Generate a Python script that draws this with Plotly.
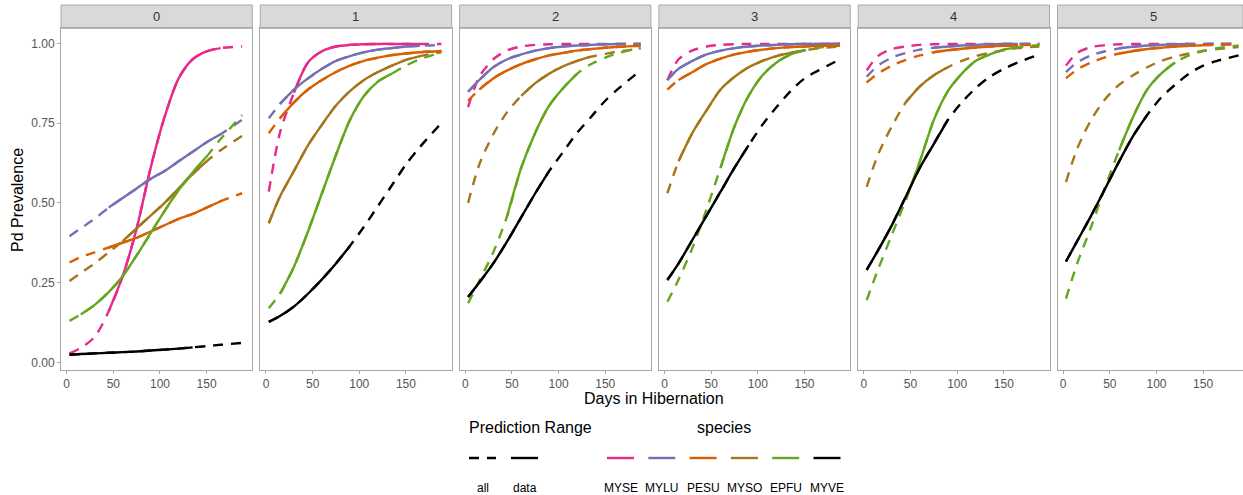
import plotly.graph_objects as go

W, H = 1243, 495

PANELS = ["0", "1", "2", "3", "4", "5"]
DAYS = [3, 15, 30, 45, 60, 75, 90, 105, 120, 135, 150, 165, 188]
SPECIES = ["MYSE", "MYLU", "PESU", "MYSO", "EPFU", "MYVE"]
COLORS = ["#E7298A", "#7570B3", "#D95F02", "#A6761D", "#66A61E", "#000000"]
X_TICKS = [0, 50, 100, 150]
Y_TICKS = [0, 0.25, 0.5, 0.75, 1.0]
Y_TICK_TEXT = ["0.00", "0.25", "0.50", "0.75", "1.00"]
RANGE_LABELS = ["all", "data"]

# predicted prevalence per panel (rows = panels 0..5), sampled at DAYS
MYSE = [
    [0.028, 0.045, 0.08, 0.16, 0.27, 0.42, 0.61, 0.77, 0.89, 0.95, 0.975, 0.985, 0.99],
    [0.535, 0.72, 0.845, 0.94, 0.975, 0.99, 0.995, 0.997, 0.998, 0.998, 0.998, 0.998, 0.998],
    [0.80, 0.895, 0.95, 0.978, 0.99, 0.995, 0.997, 0.998, 0.998, 0.998, 0.998, 0.998, 0.998],
    [0.885, 0.95, 0.978, 0.99, 0.995, 0.997, 0.998, 0.998, 0.998, 0.998, 0.998, 0.998, 0.998],
    [0.915, 0.96, 0.982, 0.99, 0.995, 0.997, 0.998, 0.998, 0.998, 0.998, 0.998, 0.998, 0.998],
    [0.93, 0.97, 0.988, 0.994, 0.997, 0.998, 0.998, 0.998, 0.998, 0.998, 0.998, 0.998, 0.998],
]
MYLU = [
    [0.395, 0.42, 0.45, 0.485, 0.515, 0.545, 0.575, 0.60, 0.63, 0.66, 0.69, 0.715, 0.76],
    [0.765, 0.81, 0.855, 0.89, 0.92, 0.945, 0.96, 0.972, 0.98, 0.985, 0.99, 0.992, 0.995],
    [0.848, 0.885, 0.925, 0.95, 0.965, 0.977, 0.985, 0.99, 0.993, 0.995, 0.997, 0.998, 0.999],
    [0.885, 0.92, 0.945, 0.965, 0.977, 0.985, 0.99, 0.993, 0.995, 0.997, 0.998, 0.998, 0.999],
    [0.895, 0.93, 0.955, 0.97, 0.98, 0.986, 0.99, 0.993, 0.995, 0.997, 0.998, 0.998, 0.999],
    [0.91, 0.94, 0.962, 0.975, 0.984, 0.989, 0.993, 0.995, 0.997, 0.998, 0.998, 0.999, 0.999],
]
PESU = [
    [0.313, 0.33, 0.345, 0.36, 0.375, 0.39, 0.41, 0.43, 0.45, 0.465, 0.485, 0.505, 0.53],
    [0.718, 0.765, 0.815, 0.855, 0.885, 0.91, 0.93, 0.945, 0.955, 0.963, 0.968, 0.972, 0.976],
    [0.82, 0.855, 0.89, 0.915, 0.935, 0.95, 0.962, 0.97, 0.977, 0.982, 0.986, 0.989, 0.992],
    [0.855, 0.885, 0.91, 0.935, 0.952, 0.965, 0.974, 0.98, 0.985, 0.988, 0.99, 0.992, 0.994],
    [0.877, 0.905, 0.93, 0.948, 0.962, 0.972, 0.978, 0.983, 0.987, 0.99, 0.992, 0.994, 0.996],
    [0.89, 0.918, 0.94, 0.956, 0.968, 0.976, 0.982, 0.986, 0.99, 0.992, 0.994, 0.995, 0.997],
]
MYSO = [
    [0.255, 0.28, 0.31, 0.345, 0.38, 0.42, 0.46, 0.50, 0.545, 0.59, 0.63, 0.665, 0.71],
    [0.436, 0.52, 0.60, 0.68, 0.745, 0.805, 0.85, 0.885, 0.91, 0.93, 0.948, 0.96, 0.972],
    [0.50, 0.62, 0.715, 0.785, 0.835, 0.875, 0.905, 0.928, 0.945, 0.958, 0.967, 0.975, 0.983],
    [0.53, 0.63, 0.72, 0.79, 0.855, 0.895, 0.925, 0.945, 0.96, 0.97, 0.978, 0.984, 0.99],
    [0.55, 0.65, 0.74, 0.815, 0.865, 0.90, 0.925, 0.945, 0.96, 0.97, 0.978, 0.985, 0.99],
    [0.565, 0.67, 0.76, 0.825, 0.87, 0.90, 0.925, 0.945, 0.958, 0.968, 0.976, 0.982, 0.988],
]
EPFU = [
    [0.13, 0.15, 0.18, 0.22, 0.27, 0.335, 0.405, 0.475, 0.54, 0.595, 0.645, 0.70, 0.775],
    [0.17, 0.215, 0.30, 0.41, 0.53, 0.65, 0.76, 0.835, 0.88, 0.905, 0.93, 0.95, 0.972],
    [0.185, 0.255, 0.345, 0.46, 0.61, 0.72, 0.805, 0.86, 0.905, 0.935, 0.955, 0.97, 0.985],
    [0.19, 0.26, 0.36, 0.48, 0.61, 0.74, 0.835, 0.90, 0.94, 0.965, 0.978, 0.986, 0.993],
    [0.195, 0.29, 0.40, 0.51, 0.63, 0.76, 0.85, 0.905, 0.945, 0.965, 0.98, 0.988, 0.994],
    [0.20, 0.31, 0.425, 0.55, 0.665, 0.77, 0.855, 0.905, 0.94, 0.962, 0.976, 0.985, 0.993],
]
MYVE = [
    [0.024, 0.026, 0.028, 0.030, 0.032, 0.034, 0.037, 0.040, 0.043, 0.047, 0.051, 0.055, 0.061],
    [0.127, 0.145, 0.175, 0.215, 0.26, 0.31, 0.365, 0.425, 0.49, 0.555, 0.62, 0.675, 0.75],
    [0.205, 0.25, 0.31, 0.38, 0.455, 0.53, 0.60, 0.66, 0.72, 0.77, 0.82, 0.86, 0.915],
    [0.258, 0.31, 0.385, 0.46, 0.535, 0.61, 0.68, 0.745, 0.80, 0.85, 0.89, 0.915, 0.95],
    [0.29, 0.35, 0.43, 0.52, 0.61, 0.685, 0.76, 0.815, 0.86, 0.895, 0.92, 0.94, 0.965],
    [0.316, 0.38, 0.46, 0.545, 0.63, 0.71, 0.775, 0.83, 0.87, 0.905, 0.93, 0.945, 0.962],
]
SERIES = [MYSE, MYLU, PESU, MYSO, EPFU, MYVE]

# range of days covered by observed data (start, end) per panel; None = no data
MYSE_DATA = [(45, 165), (30, 165), None, None, None, None]
MYLU_DATA = [(45, 165), (15, 165), (3, 165), (3, 188), (75, 165), (60, 135)]
PESU_DATA = [(45, 165), (15, 188), (15, 188), (15, 188), (75, 165), (60, 150)]
MYSO_DATA = [(60, 150), (3, 165), (60, 135), (15, 150), (45, 90), None]
EPFU_DATA = [(15, 150), (15, 135), (45, 120), (60, 150), (45, 165), (60, 120)]
MYVE_DATA = [(3, 135), (3, 90), (3, 90), (3, 90), (3, 90), (3, 90)]
DATA_RANGES = [MYSE_DATA, MYLU_DATA, PESU_DATA, MYSO_DATA, EPFU_DATA, MYVE_DATA]

FONT = "Liberation Sans, Arial, Helvetica, sans-serif"
LW = 2.4
DASH = "10px,8px"

fig = go.Figure()

# layout geometry (pixels)
P_LEFT0, P_STEP, P_WIDTH = 61.0, 199.3, 191.3
P_TOP, P_BOTTOM, STRIP_TOP = 28.3, 370.0, 5.0
PX_PER_DAY = 0.933
X_MIN = -6.1


def px(x):
    return x / W


def py(y):
    return 1 - y / H


for k, panel in enumerate(PANELS):
    xa = "x" if k == 0 else f"x{k+1}"
    ya = "y" if k == 0 else f"y{k+1}"
    for s, name in enumerate(SPECIES):
        vals = SERIES[s][k]
        fig.add_trace(go.Scatter(
            x=DAYS, y=vals, mode="lines", xaxis=xa, yaxis=ya,
            line=dict(color=COLORS[s], width=LW, dash=DASH, shape="spline", smoothing=0.8),
            showlegend=False, hoverinfo="skip"))
    for s, name in enumerate(SPECIES):
        rng = DATA_RANGES[s][k]
        if rng is None:
            continue
        xs = [d for d in DAYS if rng[0] <= d <= rng[1]]
        ys = [v for d, v in zip(DAYS, SERIES[s][k]) if rng[0] <= d <= rng[1]]
        fig.add_trace(go.Scatter(
            x=xs, y=ys, mode="lines", xaxis=xa, yaxis=ya,
            line=dict(color=COLORS[s], width=LW, shape="spline", smoothing=0.8),
            showlegend=False, hoverinfo="skip"))

layout = dict(
    width=W, height=H, margin=dict(l=0, r=0, t=0, b=0),
    plot_bgcolor="white", paper_bgcolor="white",
    font=dict(family=FONT, color="#000000"),
    showlegend=False,
)
shapes = []
annotations = []
AX_COLOR = "#A8A8A8"
for k, panel in enumerate(PANELS):
    left = P_LEFT0 + k * P_STEP
    right = min(left + P_WIDTH, W)
    x_max = X_MIN + (right - left) / PX_PER_DAY
    xkey = "xaxis" if k == 0 else f"xaxis{k+1}"
    ykey = "yaxis" if k == 0 else f"yaxis{k+1}"
    layout[xkey] = dict(
        domain=[px(left), px(right)], anchor="y" if k == 0 else f"y{k+1}",
        range=[X_MIN, x_max], tickvals=X_TICKS, ticks="outside", ticklen=3,
        tickcolor=AX_COLOR, tickfont=dict(size=12, color="#555555", family=FONT),
        showline=True, mirror=True, linecolor=AX_COLOR, linewidth=1,
        showgrid=False, zeroline=False, fixedrange=True)
    layout[ykey] = dict(
        domain=[py(P_BOTTOM), py(P_TOP)], anchor="x" if k == 0 else f"x{k+1}",
        range=[-0.024, 1.047], tickvals=Y_TICKS, ticktext=Y_TICK_TEXT,
        ticks="outside" if k == 0 else "", ticklen=3, tickcolor=AX_COLOR,
        showticklabels=(k == 0),
        tickfont=dict(size=12, color="#555555", family=FONT),
        showline=True, mirror=True, linecolor=AX_COLOR, linewidth=1,
        showgrid=False, zeroline=False, fixedrange=True)
    # facet strip
    shapes.append(dict(type="rect", xref="paper", yref="paper",
                       x0=px(left), x1=px(right), y0=py(P_TOP), y1=py(STRIP_TOP),
                       fillcolor="#D9D9D9", line=dict(color=AX_COLOR, width=1), layer="below"))
    annotations.append(dict(xref="paper", yref="paper", x=px(left + P_WIDTH / 2), y=py((P_TOP + STRIP_TOP) / 2),
                            text=panel, showarrow=False, xanchor="center", yanchor="middle",
                            font=dict(size=13, color="#333333", family=FONT)))

# axis titles
annotations.append(dict(xref="paper", yref="paper", x=px(654), y=py(398), text="Days in Hibernation",
                        showarrow=False, xanchor="center", yanchor="middle",
                        font=dict(size=16, color="#000000", family=FONT)))
annotations.append(dict(xref="paper", yref="paper", x=px(18), y=py(200), text="Pd Prevalence",
                        showarrow=False, xanchor="center", yanchor="middle", textangle=-90,
                        font=dict(size=16, color="#000000", family=FONT)))

# legend (drawn manually: keys above labels, as in ggplot bottom legend)
LEG_TITLE_Y, LEG_KEY_Y, LEG_LABEL_Y = 427, 458, 488
annotations.append(dict(xref="paper", yref="paper", x=px(467), y=py(LEG_TITLE_Y), text="Prediction Range",
                        showarrow=False, xanchor="left", yanchor="middle",
                        font=dict(size=16, color="#000000", family=FONT)))
annotations.append(dict(xref="paper", yref="paper", x=px(695), y=py(LEG_TITLE_Y), text="species",
                        showarrow=False, xanchor="left", yanchor="middle",
                        font=dict(size=16, color="#000000", family=FONT)))
range_keys = [(469, 496), (511, 538)]
for (x0, x1), lab, dash in zip(range_keys, RANGE_LABELS, [DASH, "solid"]):
    shapes.append(dict(type="line", xref="paper", yref="paper", x0=px(x0), x1=px(x1),
                       y0=py(LEG_KEY_Y), y1=py(LEG_KEY_Y),
                       line=dict(color="#000000", width=LW, dash=dash)))
    annotations.append(dict(xref="paper", yref="paper", x=px((x0 + x1) / 2), y=py(LEG_LABEL_Y), text=lab,
                            showarrow=False, xanchor="center", yanchor="middle",
                            font=dict(size=12, color="#000000", family=FONT)))
SP_KEY_X0, SP_KEY_STEP, SP_KEY_W = 607, 41.3, 27
for s, name in enumerate(SPECIES):
    x0 = SP_KEY_X0 + s * SP_KEY_STEP
    shapes.append(dict(type="line", xref="paper", yref="paper", x0=px(x0), x1=px(x0 + SP_KEY_W),
                       y0=py(LEG_KEY_Y), y1=py(LEG_KEY_Y),
                       line=dict(color=COLORS[s], width=LW)))
    annotations.append(dict(xref="paper", yref="paper", x=px(x0 + SP_KEY_W / 2), y=py(LEG_LABEL_Y), text=name,
                            showarrow=False, xanchor="center", yanchor="middle",
                            font=dict(size=12, color="#000000", family=FONT)))

layout["shapes"] = shapes
layout["annotations"] = annotations
fig.update_layout(**layout)
fig.write_html("out.html")
